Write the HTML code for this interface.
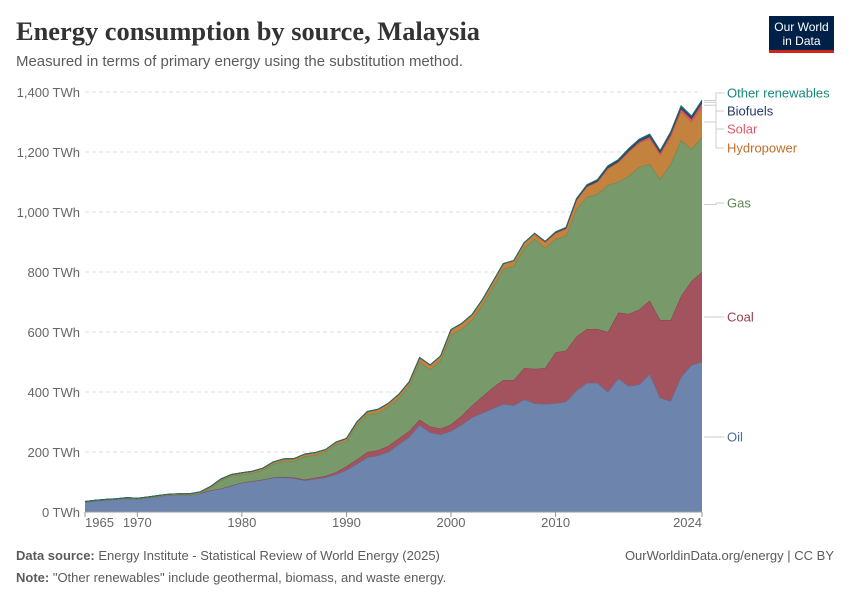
<!DOCTYPE html>
<html><head><meta charset="utf-8"><style>
body{margin:0;background:#fff;}
svg{display:block;font-family:"Liberation Sans",sans-serif;}
</style></head><body>
<svg id="chart" width="850" height="600" viewBox="0 0 850 600">
<text x="16" y="40" font-family="Liberation Serif,serif" font-weight="bold" font-size="26" fill="#333" textLength="464" lengthAdjust="spacingAndGlyphs">Energy consumption by source, Malaysia</text>
<text x="16" y="66" font-size="15" fill="#5b5b5b" textLength="447" lengthAdjust="spacingAndGlyphs">Measured in terms of primary energy using the substitution method.</text>
<g>
<rect x="769" y="16" width="65" height="34" fill="#002147"/>
<rect x="769" y="50" width="65" height="3" fill="#ce261e"/>
<text x="801.5" y="31" font-size="12" fill="#fff" text-anchor="middle">Our World</text>
<text x="801.5" y="45" font-size="12" fill="#fff" text-anchor="middle">in Data</text>
</g>
<g id="grid"></g>
<g id="areas"></g>
<g id="xaxis"></g>
<g id="labels"></g>
<text x="16" y="560" font-size="13" fill="#5b5b5b"><tspan font-weight="bold">Data source:</tspan> Energy Institute - Statistical Review of World Energy (2025)</text>
<text x="834" y="560" font-size="13" fill="#5b5b5b" text-anchor="end">OurWorldinData.org/energy | CC BY</text>
<text x="16" y="582" font-size="13" fill="#5b5b5b"><tspan font-weight="bold">Note:</tspan> "Other renewables" include geothermal, biomass, and waste energy.</text>
</svg>
<script>
const years=[];for(let y=1965;y<=2024;y++)years.push(y);
const oil=[33,37,40,42,45,43,47,52,56,57,57,62,72,78,88,98,103,108,115,115,112,105,110,115,125,140,160,182,188,200,225,250,290,265,258,270,290,315,330,345,360,355,375,362,360,362,368,405,430,430,400,445,420,425,460,380,370,450,490,500];
const coal=[0,0,0,0,0,0,0,0,0,0,0,0,0,0,0,0,0,0,0,2,3,3,4,5,8,12,15,18,18,20,20,20,18,20,20,22,30,40,55,70,80,85,105,115,120,170,170,180,180,180,200,220,240,250,245,260,270,270,280,300];
const gas=[0,0,0,0,0,0,0,0,0,0,0,0,8,27,32,27,27,32,45,53,55,77,76,80,92,83,115,125,124,130,135,150,192,190,227,298,290,285,305,335,370,380,400,433,400,378,382,425,440,450,490,435,460,475,455,470,520,520,440,450];
const hydro=[2,2,2,2,3,3,3,3,3,4,4,5,5,5,5,6,6,6,7,7,8,8,8,8,8,10,10,10,12,12,12,14,15,15,15,18,18,18,18,18,18,18,18,18,20,20,25,30,35,40,55,65,80,80,85,80,90,95,90,100];
const solar=[0,0,0,0,0,0,0,0,0,0,0,0,0,0,0,0,0,0,0,0,0,0,0,0,0,0,0,0,0,0,0,0,0,0,0,0,0,0,0,0,0,0,0,0,0,0,0,0,0,1,1,2,3,4,5,6,7,8,9,12];
const biofuels=[0,0,0,0,0,0,0,0,0,0,0,0,0,0,0,0,0,0,0,0,0,0,0,0,0,0,0,0,0,0,0,0,0,0,0,0,0,0,0,0,0,0,0,1,2,3,3,4,5,5,6,6,7,7,8,7,7,8,8,8];
const other=[0,0,0,0,0,0,0,0,0,0,0,0,0,0,0,0,0,0,0,0,0,0,0,0,0,0,0,0,0,0,0,0,0,0,0,0,0,0,0,0,0,0,0,0,0,1,1,1,1,2,2,2,2,2,2,2,3,3,3,3];
const yTicks=[0,200,400,600,800,1000,1200,1400];
const xTicks=[1965,1970,1980,1990,2000,2010,2024];
const seriesNames=["Oil","Coal","Gas","Hydropower","Solar","Biofuels","Other renewables"];
const NS="http://www.w3.org/2000/svg";
const X0=85,X1=702,Y0=512,Y1=92;
const xs=y=>X0+(y-1965)*(X1-X0)/(2024-1965);
const ys=v=>Y0-v*(Y0-Y1)/1400;
function mk(t,a,p){const e=document.createElementNS(NS,t);for(const k in a)e.setAttribute(k,a[k]);p.appendChild(e);return e;}
const grid=document.getElementById('grid');
yTicks.forEach(v=>{
 if(v>0){const l=mk('line',{x1:X0,x2:X1,y1:ys(v),y2:ys(v),stroke:'#ddd','stroke-dasharray':'4,3'},grid);
 
 }
 const t=mk('text',{x:80,y:ys(v)+5,'text-anchor':'end','font-size':13,fill:'#666'},grid);t.textContent=v.toLocaleString('en-US')+' TWh';
 
 
});
const series=[oil,coal,gas,hydro,solar,biofuels,other];
const fills=['#6d85ad','#a2535e','#78996a','#c4823f','#e0566d','#2c4a73','#2a8a7e'];
const strokes=['#5a719a','#8e3f4c','#638556','#b06d2b','#d0405a','#213b5e','#1e7468'];
const areas=document.getElementById('areas');
let base=years.map(()=>0);
series.forEach((s,i)=>{
 const top=base.map((b,j)=>b+s[j]);
 let d='M'+years.map((y,j)=>xs(y)+','+ys(top[j])).join('L');
 for(let j=years.length-1;j>=0;j--)d+='L'+xs(years[j])+','+ys(base[j]);
 const p=mk('path',{d:d+'Z',fill:fills[i]},areas);
 
 
 const ln=mk('path',{d:'M'+years.map((y,j)=>xs(y)+','+ys(top[j])).join('L'),fill:'none',stroke:strokes[i],'stroke-width':1},areas);
 
 
 base=top;
});
const xa=document.getElementById('xaxis');
const axl=mk('line',{x1:X0,x2:X1,y1:Y0,y2:Y0,stroke:'#999'},xa);


xTicks.forEach((y,i)=>{
 mk('line',{x1:xs(y),x2:xs(y),y1:Y0,y2:Y0+5,stroke:'#999'},xa);
 const anchor=i===0?'start':(i===xTicks.length-1?'end':'middle');
 const t=mk('text',{x:xs(y),y:527,'text-anchor':anchor,'font-size':13,fill:'#666'},xa);t.textContent=y;
 
 
});
const lab=document.getElementById('labels');
const labY=[437,317,203,148,129,111,93];
const labC=['#4c6a9c','#9a3f4b','#5e8251','#be6e28','#e0566d','#213b66','#17877b'];
const lastTop=[];let acc=0;series.forEach(s=>{acc+=s[s.length-1];lastTop.push(acc);});
series.forEach((s,i)=>{
 const mid=ys(lastTop[i]-s[s.length-1]/2);
 const g=mk('path',{d:`M${X1+2},${mid}L${X1+14},${mid}L${X1+14},${labY[i]}L${X1+22},${labY[i]}`,fill:'none',stroke:'#ccc'},lab);
 
 
 const t=mk('text',{x:727,y:labY[i]+4.5,'font-size':13,fill:labC[i]},lab);t.textContent=seriesNames[i];
 
 
});
</script>
</body></html>
